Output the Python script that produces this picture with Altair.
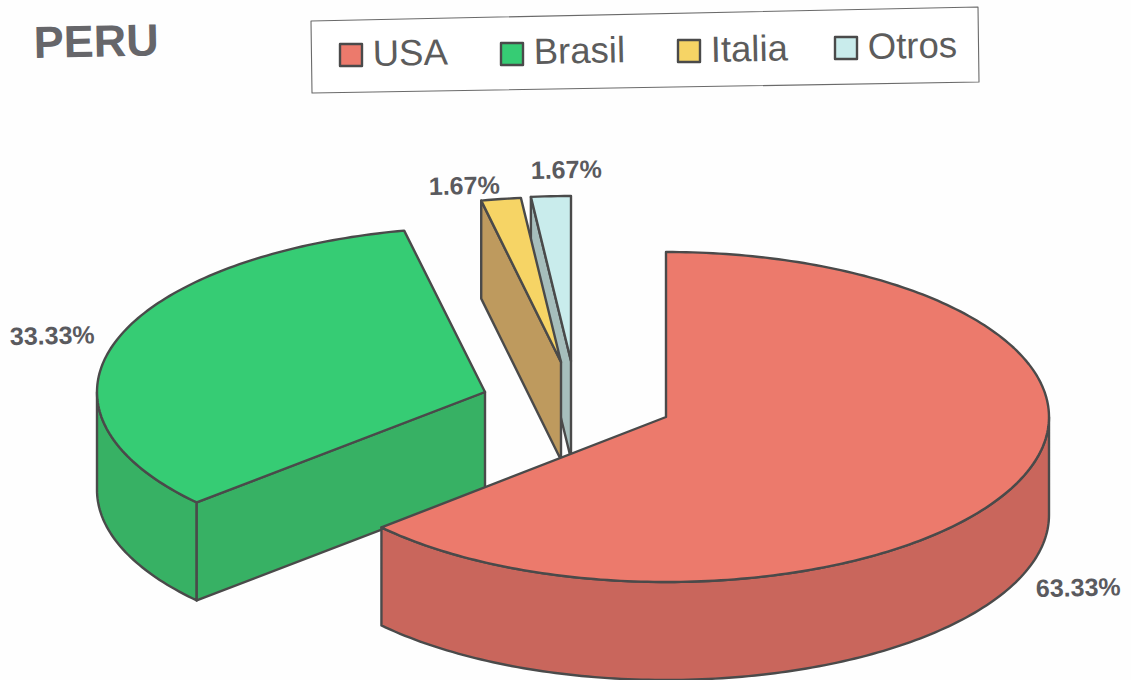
import math
import altair as alt

# Export shares by destination
countries = ["USA", "Brasil", "Italia", "Otros"]
shares = [63.33, 33.33, 1.67, 1.67]
top_colors = ["#EC7A6C", "#36CC74", "#F6D465", "#C9ECEC"]
wall_colors = ["#C9665C", "#37B164", "#BE9A5E", "#A6BEBC"]
# Exploded apex and horizontal radius of every wedge on the page
apex_x = [666, 485, 561, 571]
apex_y = [417, 392, 362, 361]
radius_x = [383, 388, 383, 383]
label_x = [1036, 10, 429, 531]
label_y = [597, 345, 195, 179]

legend_swatch_x = [340, 501, 678, 835]
legend_swatch_y = [44, 43, 40, 37]
legend_text_x = [373, 534, 711, 868]
legend_text_y = [66, 64, 62, 59]

RY, DEPTH = 165, 98
INK = "#4A4A4A"
TEXT = "#5A5A5E"
TILT = 358.8


def rim(i, deg, drop=0.0):
    a = math.radians(deg)
    return [apex_x[i] + radius_x[i] * math.sin(a), apex_y[i] - RY * math.cos(a) + drop]


def arc(i, start, end, drop=0.0):
    n = max(2, int(abs(end - start)) + 1)
    return [rim(i, start + (end - start) * k / (n - 1), drop) for k in range(n)]


def feature(points, fill, stroke=INK, width=2.4):
    ring = [[float(x), float(y)] for x, y in points]
    ring.append(ring[0])
    return {
        "type": "Feature",
        "geometry": {"type": "Polygon", "coordinates": [ring]},
        "properties": {"fill": fill, "stroke": stroke, "width": width},
    }


# Start and end angle of every wedge, clockwise from twelve o'clock
total = sum(shares)
spans = []
cursor = 0.0
for s in shares:
    spans.append((cursor, cursor + 360 * s / total))
    cursor += 360 * s / total


def wedge_faces(i):
    start, end = spans[i]
    apex = [apex_x[i], apex_y[i]]
    apex_low = [apex_x[i], apex_y[i] + DEPTH]
    faces = []
    # Outer wall, only where the rim faces the viewer
    lo, hi = max(start, 90), min(end, 270)
    if lo < hi:
        faces.append(feature(arc(i, lo, hi) + arc(i, hi, lo, DEPTH), wall_colors[i]))
    # Cut face on the side turned to the viewer
    if start > 180 or (i == 1):
        a = start
        faces.append(feature([apex, rim(i, a), rim(i, a, DEPTH), apex_low], wall_colors[i]))
    faces.append(feature([apex] + arc(i, start, end), top_colors[i]))
    return faces


# Back to front: Brasil, Otros, Italia, USA
shapes = []
for i in [1, 3, 2, 0]:
    shapes += wedge_faces(i)

# Legend frame and swatches
shapes.append(feature([[311, 21], [978, 7], [979, 82], [312, 93]], "#FFFFFF", "#6A6A6A", 1.1))
for i in range(4):
    x, y = legend_swatch_x[i], legend_swatch_y[i]
    shapes.append(feature([[x, y], [x + 22, y], [x + 22, y + 22], [x, y + 22]], top_colors[i], INK, 2.4))

canvas = alt.Chart(alt.Data(values=shapes)).mark_geoshape(strokeJoin="round").encode(
    fill=alt.Fill("properties.fill:N", scale=None),
    stroke=alt.Stroke("properties.stroke:N", scale=None),
    strokeWidth=alt.StrokeWidth("properties.width:Q", scale=None),
).project(type="identity", scale=1, translate=[0, 0])

x_enc = alt.X("x:Q", scale=None, axis=None)
y_enc = alt.Y("y:Q", scale=None, axis=None)

value_rows = [
    {"x": label_x[i], "y": label_y[i], "t": f"{shares[i]:.2f}%"} for i in range(4)
]
legend_rows = [
    {"x": legend_text_x[i], "y": legend_text_y[i], "t": countries[i]} for i in range(4)
]
title_rows = [{"x": 34, "y": 58, "t": "PERU"}]


def text_layer(rows, size, weight, color):
    return alt.Chart(alt.Data(values=rows)).mark_text(
        font="Liberation Sans", fontSize=size, fontWeight=weight, color=color,
        align="left", baseline="alphabetic", angle=TILT,
    ).encode(x=x_enc, y=y_enc, text="t:N")


chart = alt.layer(
    canvas,
    text_layer(value_rows, 25, "bold", TEXT),
    text_layer(legend_rows, 36.5, "normal", "#5C5C5C"),
    text_layer(title_rows, 45, "bold", "#66666A"),
).properties(
    width=1131, height=680, padding=0,
    autosize=alt.AutoSizeParams(type="none"),
    background="#FEFEFE",
).configure_view(stroke=None)

chart.save("out.html", embed_options={"renderer": "svg", "actions": False})
